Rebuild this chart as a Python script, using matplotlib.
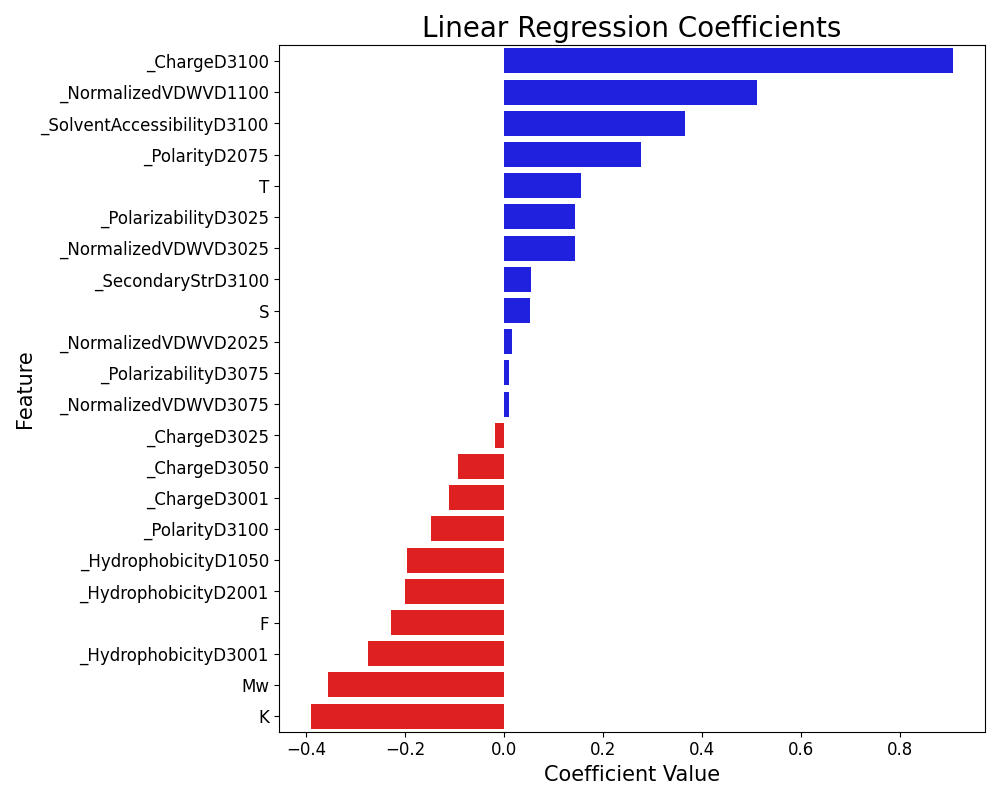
import matplotlib
matplotlib.use("Agg")
import matplotlib.pyplot as plt
import seaborn as sns
import pandas as pd

features = ["_ChargeD3100", "_NormalizedVDWVD1100", "_SolventAccessibilityD3100",
            "_PolarityD2075", "T", "_PolarizabilityD3025", "_NormalizedVDWVD3025",
            "_SecondaryStrD3100", "S", "_NormalizedVDWVD2025", "_PolarizabilityD3075",
            "_NormalizedVDWVD3075", "_ChargeD3025", "_ChargeD3050", "_ChargeD3001",
            "_PolarityD3100", "_HydrophobicityD1050", "_HydrophobicityD2001", "F",
            "_HydrophobicityD3001", "Mw", "K"]
coefficients = [0.906, 0.510, 0.365, 0.276, 0.155, 0.143, 0.142, 0.054, 0.052,
                0.0156, 0.0095, 0.0095, -0.0188, -0.0935, -0.1117, -0.148,
                -0.1966, -0.201, -0.229, -0.276, -0.357, -0.391]

df = pd.DataFrame({"Feature": features, "Coefficient": coefficients})
colors = ["blue" if c > 0 else "red" for c in coefficients]

fig, ax = plt.subplots(figsize=(10, 8), dpi=100)
sns.barplot(data=df, x="Coefficient", y="Feature", hue="Feature",
            palette=colors, legend=False, ax=ax, saturation=0.75)
ax.set_title("Linear Regression Coefficients", fontsize=20)
ax.set_xlabel("Coefficient Value", fontsize=15)
ax.set_ylabel("Feature", fontsize=15)
ax.tick_params(axis="both", labelsize=12)
fig.tight_layout()
fig.savefig("out.png", dpi=100)
